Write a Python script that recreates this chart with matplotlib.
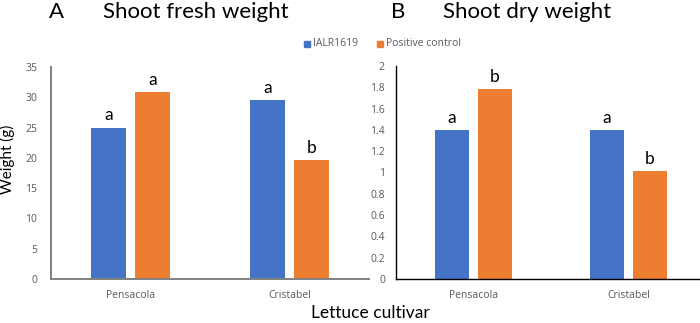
import numpy as np
import matplotlib
matplotlib.use('Agg')
import matplotlib.pyplot as plt
from matplotlib.patches import Rectangle

plt.rcParams['font.family'] = ['Open Sans', 'DejaVu Sans']
big = ['Lato', 'DejaVu Sans']

cultivars = ['Pensacola', 'Cristabel']
series = ['IALR1619', 'Positive control']
colors = ['#4472C4', '#ED7D31']

fresh_ialr = [25.0, 29.6]
fresh_pos = [30.9, 19.7]
fresh_letters_ialr = ['a', 'a']
fresh_letters_pos = ['a', 'b']

dry_ialr = [1.40, 1.40]
dry_pos = [1.78, 1.01]
dry_letters_ialr = ['a', 'a']
dry_letters_pos = ['b', 'b']

fresh_ticks = [0, 5, 10, 15, 20, 25, 30, 35]
dry_ticks = [0, 0.2, 0.4, 0.6, 0.8, 1, 1.2, 1.4, 1.6, 1.8, 2]
dry_ticklabels = ['0', '0.2', '0.4', '0.6', '0.8', '1', '1.2', '1.4', '1.6', '1.8', '2']

W, H = 700, 323
fig = plt.figure(figsize=(W / 100, H / 100), dpi=100)

ax1 = fig.add_axes([51 / W, 44 / H, 318 / W, 212 / H])
ax2 = fig.add_axes([396 / W, 44 / H, 310 / W, 213 / H])

x = np.arange(len(cultivars))
bw = 0.22
off = 0.138


def draw(ax, a, b, la, lb, ymax, ticks, ticklabels, spine_col, spine_w, pad):
    ax.bar(x - off, a, bw, color=colors[0])
    ax.bar(x + off, b, bw, color=colors[1])
    for xi, v, t in zip(x - off, a, la):
        ax.annotate(t, (xi, v), xytext=(0, 3), textcoords='offset points',
                    ha='center', va='bottom', fontsize=12.5, color='black', family=big)
    for xi, v, t in zip(x + off, b, lb):
        ax.annotate(t, (xi, v), xytext=(0, 3), textcoords='offset points',
                    ha='center', va='bottom', fontsize=12.5, color='black', family=big)
    ax.set_xlim(-0.5, 1.5)
    ax.set_ylim(0, ymax)
    ax.set_yticks(ticks)
    ax.set_yticklabels(ticklabels)
    ax.set_xticks(x)
    ax.set_xticklabels(cultivars)
    ax.tick_params(axis='both', length=0, labelsize=7.5, colors='#595959')
    ax.tick_params(axis='y', pad=pad)
    ax.tick_params(axis='x', pad=8)
    for s in ['top', 'right']:
        ax.spines[s].set_visible(False)
    for s in ['left', 'bottom']:
        ax.spines[s].set_color(spine_col)
        ax.spines[s].set_linewidth(spine_w)


draw(ax1, fresh_ialr, fresh_pos, fresh_letters_ialr, fresh_letters_pos, 35,
     fresh_ticks, [str(t) for t in fresh_ticks], '#808080', 1.4, 10)
draw(ax2, dry_ialr, dry_pos, dry_letters_ialr, dry_letters_pos, 2,
     dry_ticks, dry_ticklabels, 'black', 1.0, 8)

# titles
ty = 1 - 12 / H
fig.text(49 / W, ty, 'A', fontsize=16, va='center', ha='left', family=big)
fig.text(103 / W, ty, 'Shoot fresh weight', fontsize=16, va='center', ha='left', family=big)
fig.text(391 / W, ty, 'B', fontsize=16, va='center', ha='left', family=big)
fig.text(443 / W, ty, 'Shoot dry weight', fontsize=16, va='center', ha='left', family=big)

# legend
ly = 1 - 44 / H
fig.add_artist(Rectangle((304 / W, 1 - 47 / H), 6 / W, 6 / H, color=colors[0],
                         transform=fig.transFigure))
fig.text(313 / W, ly, series[0], fontsize=7.5, color='#595959', va='center', ha='left')
fig.add_artist(Rectangle((377 / W, 1 - 47 / H), 6 / W, 6 / H, color=colors[1],
                         transform=fig.transFigure))
fig.text(386 / W, ly, series[1], fontsize=7.5, color='#595959', va='center', ha='left')

# axis labels
fig.text(7 / W, 1 - 159 / H, 'Weight (g)', fontsize=11, rotation=90, va='center', ha='center', family=big)
fig.text(370 / W, 1 - 313 / H, 'Lettuce cultivar', fontsize=12.5, va='center', ha='center', family=big)

fig.savefig('out.png', dpi=100)
